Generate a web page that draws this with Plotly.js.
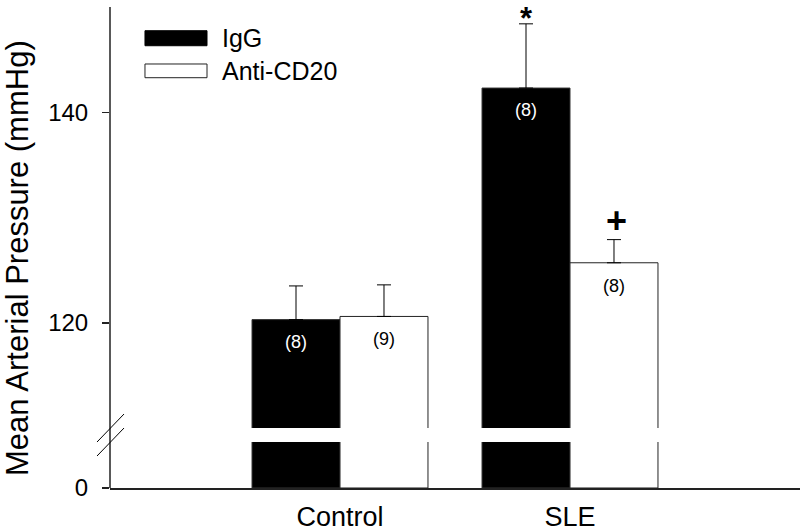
<!DOCTYPE html>
<html>
<head>
<meta charset="utf-8">
<script src="https://cdn.plot.ly/plotly-3.0.1.min.js"></script>
<style>html,body{margin:0;padding:0;background:#fff;}#chart{width:800px;height:532px;}</style>
</head>
<body>
<div id="chart"></div>
<script>
var groups = ["Control", "SLE"];
var iggMean = [120.3, 142.3];
var iggErr = [3.2, 6.1];
var iggN = ["(8)", "(8)"];
var antiMean = [120.6, 125.7];
var antiErr = [3.0, 2.2];
var antiN = ["(9)", "(8)"];
var seriesNames = ["IgG", "Anti-CD20"];
var marks = ["*", "+"]; // significance marks on SLE bars
var upperTicks = [120, 140];
var lowerTicks = [0];

var FONT = "Liberation Sans, Arial, sans-serif";
var zeros = [0, 0];

var traces = [
  {type: "bar", x: groups, y: iggMean, name: seriesNames[0], xaxis: "x", yaxis: "y",
   marker: {color: "#000", line: {color: "#333", width: 1}},
   error_y: {type: "data", symmetric: false, array: iggErr, arrayminus: zeros, color: "#000", thickness: 1, width: 7},
   hoverinfo: "skip", showlegend: false},
  {type: "bar", x: groups, y: antiMean, name: seriesNames[1], xaxis: "x", yaxis: "y",
   marker: {color: "#fff", line: {color: "#222", width: 1}},
   error_y: {type: "data", symmetric: false, array: antiErr, arrayminus: zeros, color: "#000", thickness: 1, width: 7},
   hoverinfo: "skip", showlegend: false},
  {type: "bar", x: groups, y: iggMean, name: seriesNames[0], xaxis: "x", yaxis: "y2",
   marker: {color: "#000", line: {color: "#333", width: 1}}, hoverinfo: "skip", showlegend: false},
  {type: "bar", x: groups, y: antiMean, name: seriesNames[1], xaxis: "x", yaxis: "y2",
   marker: {color: "#fff", line: {color: "#222", width: 1}}, hoverinfo: "skip", showlegend: false}
];

var off = (1 - 0.235) / 4; // half of bar width in category units
var annotations = [];
for (var i = 0; i < groups.length; i++) {
  annotations.push({xref: "x", yref: "y", x: i - off, y: iggMean[i], yshift: -22, text: iggN[i],
    showarrow: false, font: {family: FONT, size: 18, color: "#fff"}});
  annotations.push({xref: "x", yref: "y", x: i + off, y: antiMean[i], yshift: -23, text: antiN[i],
    showarrow: false, font: {family: FONT, size: 18, color: "#000"}});
}
annotations.push({xref: "x", yref: "y", x: 1 - off, y: iggMean[1] + iggErr[1], yanchor: "bottom", yshift: -14,
  text: "<b>" + marks[0] + "</b>", showarrow: false, font: {family: FONT, size: 31, color: "#000"}});
annotations.push({xref: "x", yref: "y", x: 1 + off, y: antiMean[1] + antiErr[1], yanchor: "bottom", yshift: -3, xshift: 3,
  text: "<b>" + marks[1] + "</b>", showarrow: false, font: {family: FONT, size: 36, color: "#000"}});
// legend text
annotations.push({xref: "paper", yref: "paper", x: 0.1594, y: 0.9356, xanchor: "left", yanchor: "middle",
  text: seriesNames[0], showarrow: false, font: {family: FONT, size: 25, color: "#000"}});
annotations.push({xref: "paper", yref: "paper", x: 0.1594, y: 0.8669, xanchor: "left", yanchor: "middle",
  text: seriesNames[1], showarrow: false, font: {family: FONT, size: 25, color: "#000"}});
// y-axis title
annotations.push({xref: "paper", yref: "paper", x: -0.163, y: 0.478, xanchor: "left", yanchor: "middle",
  textangle: -90, text: "Mean Arterial Pressure (mmHg)", showarrow: false,
  font: {family: FONT, size: 31, color: "#000"}});

var shapes = [
  {type: "line", xref: "paper", yref: "paper", x0: 0, x1: 0, y0: 0, y1: 1, line: {color: "#222", width: 1.5}},
  {type: "line", xref: "paper", yref: "paper", x0: -0.0188, x1: 0.0203, y0: 0.0956, y1: 0.1538, line: {color: "#000", width: 1}},
  {type: "line", xref: "paper", yref: "paper", x0: -0.0188, x1: 0.0203, y0: 0.0665, y1: 0.1247, line: {color: "#000", width: 1}},
  {type: "rect", xref: "paper", yref: "paper", x0: 0.0507, x1: 0.1406, y0: 0.9195, y1: 0.9507, fillcolor: "#000", line: {color: "#000", width: 1}},
  {type: "rect", xref: "paper", yref: "paper", x0: 0.0507, x1: 0.1406, y0: 0.8530, y1: 0.8815, fillcolor: "#fff", line: {color: "#222", width: 1}}
];

var layout = {
  width: 800, height: 532,
  margin: {l: 110, r: 0, t: 7, b: 44},
  paper_bgcolor: "#fff", plot_bgcolor: "rgba(0,0,0,0)",
  barmode: "group", bargap: 0.235, bargroupgap: 0,
  showlegend: false,
  font: {family: FONT, color: "#000"},
  xaxis: {type: "category", range: [-1, 2], anchor: "y2", showline: true, linecolor: "#222", linewidth: 1.5,
    ticks: "", showgrid: false, zeroline: false, tickfont: {family: FONT, size: 27, color: "#000"},
    ticklabelstandoff: 4},
  yaxis: {domain: [0.1247, 1], range: [110, 150], anchor: "x", showline: false, showgrid: false, zeroline: false,
    tickvals: upperTicks, ticks: "outside", ticklen: 7, tickcolor: "#222", tickwidth: 1.5,
    tickfont: {family: FONT, size: 24, color: "#000"}, ticklabelstandoff: 9},
  yaxis2: {domain: [0, 0.0956], range: [0, 10], anchor: "x", showline: false, showgrid: false, zeroline: false,
    tickvals: lowerTicks, ticks: "outside", ticklen: 7, tickcolor: "#222", tickwidth: 1.5,
    tickfont: {family: FONT, size: 24, color: "#000"}, ticklabelstandoff: 9},
  annotations: annotations,
  shapes: shapes
};

Plotly.newPlot("chart", traces, layout, {staticPlot: true, displayModeBar: false});
</script>
</body>
</html>
